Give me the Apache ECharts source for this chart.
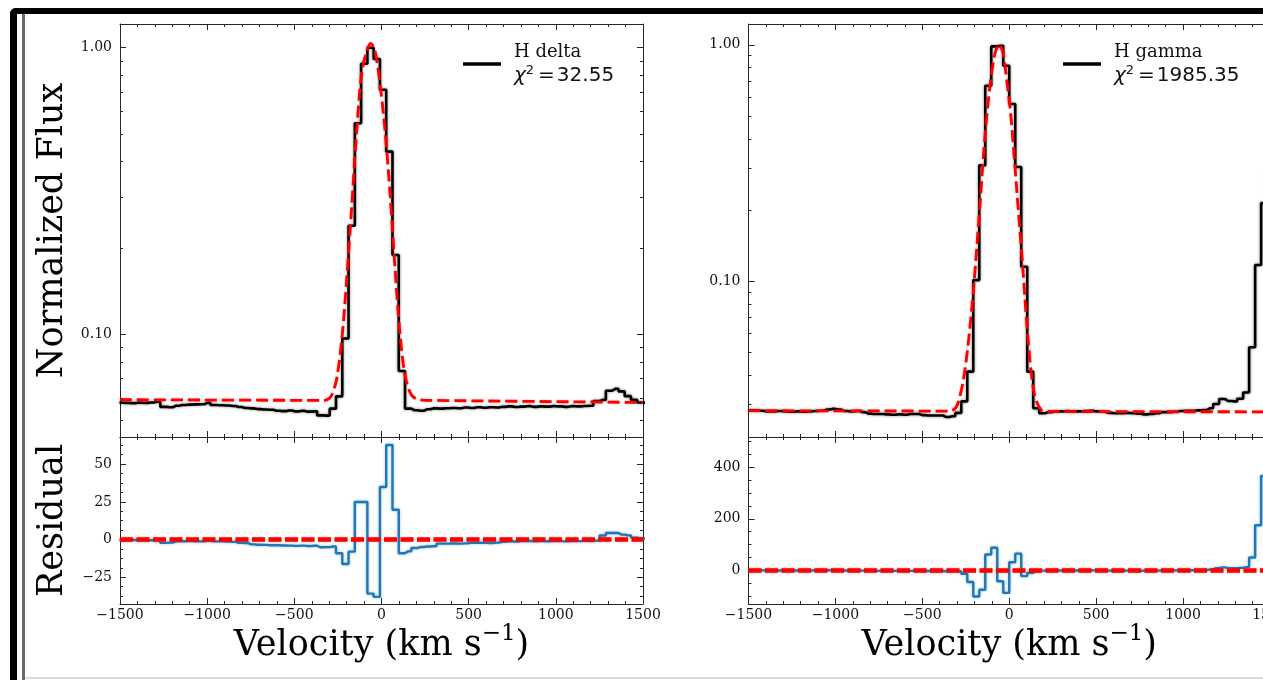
<!DOCTYPE html>
<html>
<head>
<meta charset="utf-8">
<script src="https://cdn.jsdelivr.net/npm/echarts@6/dist/echarts.min.js"></script>
<style>
html,body{margin:0;padding:0;width:1263px;height:680px;overflow:hidden;background:#fff;}
#frameOuter{position:absolute;left:10px;top:8px;width:1320px;height:700px;border-top:6px solid #000;border-left:7px solid #000;border-top-left-radius:6px;box-sizing:border-box;}
#frameInner{position:absolute;left:22px;top:14px;width:3px;height:670px;background:#6b6b6b;}
#frameBottom{position:absolute;left:25px;top:677px;width:1320px;height:2px;background:#dcdcdc;}
#chart{position:absolute;left:0;top:0;width:1300px;height:680px;}
</style>
</head>
<body>
<div id="frameOuter"></div>
<div id="frameInner"></div>
<div id="frameBottom"></div>
<div id="chart"></div>
<script>
// ---------------- DATA ----------------
// H delta (left panel): bin centres (km/s), normalized flux, residual
const hdVel = [-1503,-1467,-1431,-1395,-1359,-1323,-1287,-1251,-1215,-1179,-1143,-1107,-1071,-1035,-999,-963,-927,-891,-855,-819,-783,-747,-711,-675,-639,-603,-567,-531,-495,-459,-423,-387,-351,-315,-279,-243,-207,-171,-135,-99,-63,-27,9,45,81,117,153,189,225,261,297,333,369,405,441,477,513,549,585,621,657,693,729,765,801,837,873,909,945,981,1017,1053,1089,1125,1161,1197,1233,1269,1305,1341,1377,1413,1449,1485,1521];
const hdFlux = [0.0577,0.0576,0.0575,0.0577,0.0576,0.0578,0.0581,0.0558,0.0556,0.0563,0.0566,0.0568,0.0569,0.0570,0.0576,0.0566,0.0565,0.0564,0.0562,0.0557,0.0553,0.0551,0.0548,0.0546,0.0545,0.0541,0.0539,0.0542,0.0538,0.0540,0.0537,0.0538,0.0521,0.0520,0.0550,0.0607,0.0966,0.239,0.545,0.879,1.00,0.913,0.713,0.434,0.189,0.0744,0.0550,0.0543,0.0541,0.0547,0.0551,0.0550,0.0552,0.0553,0.0552,0.0555,0.0553,0.0556,0.0554,0.0556,0.0555,0.0558,0.0560,0.0557,0.0559,0.0561,0.0558,0.0560,0.0559,0.0561,0.0560,0.0558,0.0561,0.0560,0.0562,0.0563,0.0585,0.0590,0.0635,0.0645,0.0632,0.0608,0.0590,0.0578,0.0575];
const hdResid = [-0.4,-0.4,-0.3,-0.4,-0.5,-0.4,-0.5,-2.2,-2.0,-1.2,-1.1,-1.0,-1.1,-1.2,-0.8,-1.2,-1.2,-1.3,-1.5,-2.2,-2.3,-3.2,-3.4,-3.5,-3.8,-3.8,-3.9,-4.0,-4.2,-4.0,-4.3,-4.1,-5.1,-5.0,-4.6,-9.1,-16.2,-8.0,24.9,24.9,-35.8,-38.0,34.9,62.7,19.8,-9.1,-7.8,-5.6,-4.9,-4.6,-4.4,-2.7,-2.7,-2.6,-2.7,-2.5,-2.2,-2.2,-2.1,-2.3,-2.0,-1.5,-1.1,-1.3,-1.0,-0.9,-1.2,-1.0,-1.1,-0.9,-1.0,-1.2,-0.9,-1.0,-0.8,-0.9,-0.7,2.7,4.4,4.4,3.3,2.8,1.3,0.8,0.5];
// H delta model (red dashed)
const hdModelVel  = [-1500,-340,-314,-286,-257,-228,-200,-171,-142,-114,-85,-62,-37,-9,20,49,77,106,135,173,221,260,1500];
const hdModelFlux = [0.0591,0.0588,0.0590,0.0612,0.070,0.0953,0.1545,0.279,0.517,0.815,0.971,1.035,0.971,0.752,0.517,0.310,0.172,0.1005,0.0719,0.0612,0.0590,0.0588,0.0578];

// H gamma (right panel)
const hgVel = [-1500.75,-1466.25,-1431.75,-1397.25,-1362.75,-1328.25,-1293.75,-1259.25,-1224.75,-1190.25,-1155.75,-1121.25,-1086.75,-1052.25,-1017.75,-983.25,-948.75,-914.25,-879.75,-845.25,-810.75,-776.25,-741.75,-707.25,-672.75,-638.25,-603.75,-569.25,-534.75,-500.25,-465.75,-431.25,-396.75,-362.25,-327.75,-293.25,-258.75,-224.25,-189.75,-155.25,-120.75,-86.25,-51.75,-17.25,17.25,51.75,86.25,120.75,155.25,189.75,224.25,258.75,293.25,327.75,362.25,396.75,431.25,465.75,500.25,534.75,569.25,603.75,638.25,672.75,707.25,741.75,776.25,810.75,845.25,879.75,914.25,948.75,983.25,1017.75,1052.25,1086.75,1121.25,1155.75,1190.25,1224.75,1259.25,1293.75,1328.25,1362.75,1397.25,1431.75,1466.25,1500.75];
const hgFlux = [0.0284,0.0284,0.0283,0.0281,0.0281,0.0282,0.0281,0.0280,0.0281,0.0280,0.0281,0.0282,0.0283,0.0286,0.0288,0.0286,0.0282,0.0281,0.0282,0.0279,0.0275,0.0274,0.0274,0.0273,0.0272,0.0273,0.0272,0.0274,0.0274,0.0271,0.0270,0.0270,0.0270,
  0.0266,0.0268,0.0277,0.031,0.0414,0.101,0.309,0.671,0.985,0.99,0.815,0.562,0.304,0.115,0.0414,0.029,
  0.0276,0.0279,0.0281,0.0281,0.0282,0.0281,0.0281,0.0282,0.0283,0.0281,0.0280,0.0277,0.0276,0.0276,0.0277,0.0276,0.0275,0.0273,0.0274,0.0276,0.0279,0.0279,0.0280,0.0282,0.0283,0.0283,0.0284,
  0.0285,0.0290,0.0302,0.0317,0.0311,0.0310,0.0318,0.0338,0.0525,0.117,0.214,0.30];
const hgResid = [0.3,0.2,0.1,-0.2,-0.3,0,-0.2,-0.4,-0.3,-0.4,-0.2,0.1,0.3,0.8,1.2,0.7,0,-0.2,0,-0.6,-1.3,-1.5,-1.5,-1.7,-1.8,-1.7,-1.9,-1.7,-1.7,-2.1,-2.2,-2.2,-2.3,
  -3.2,-2.8,-3,-13,-45,-101,-75,62,88,-42,-87,32,65,-22,-9,-2,
  -0.8,-0.4,0,0,0.2,0,0,0.2,0.4,0.1,-0.2,-0.8,-1,-1,-0.8,-1,-1.2,-1.5,-1.3,-0.8,-0.2,-0.1,0.2,0.4,0.5,0.6,0.8,
  1.5,4,9,12,9,9,10,13,50,175,366,480];
const hgModelVel  = [-1500,-340,-310,-295,-267,-238,-206,-171,-137,-105,-80,-57,-35,-23,10,42,76,110,143,181,220,1500];
const hgModelFlux = [0.0283,0.0282,0.0290,0.0305,0.037,0.0528,0.0916,0.199,0.434,0.728,0.93,1.005,0.92,0.802,0.494,0.250,0.119,0.0546,0.0336,0.0286,0.0281,0.0280];

// Tick values
const xTickInterval = 500;
const logMajor = [0.1, 1];
const hdLogMinor = [0.05,0.06,0.07,0.08,0.09,0.2,0.3,0.4,0.5,0.6,0.7,0.8,0.9];
const hgLogMinor = [0.03,0.04,0.05,0.06,0.07,0.08,0.09,0.2,0.3,0.4,0.5,0.6,0.7,0.8,0.9];
const hdResMajor = [-25,0,25,50];
const hdResMinor = [-37.5,-31.25,-18.75,-12.5,-6.25,6.25,12.5,18.75,31.25,37.5,43.75,56.25,62.5];
const hgResMajor = [0,200,400];
const hgResMinor = [-100,-50,50,100,150,250,300,350,450,500];

// ---------------- CHART ----------------
const F = 'DejaVu Serif';
const AX = '#262626';
const minus = v => (v < 0 ? '\u2212' + Math.abs(v) : String(v));
const pairs = (xs, ys) => xs.map((x, i) => [x, ys[i]]);

function xAx(gi, pos, showLabel, name) {
  return {
    type: 'value', gridIndex: gi, position: pos, min: -1500, max: 1500, interval: xTickInterval,
    axisLine: {show: true, onZero: false, lineStyle: {color: AX, width: 1}},
    axisTick: {show: true, inside: true, length: 6, lineStyle: {color: AX, width: 1}},
    minorTick: {show: true, splitNumber: 5, length: 3, lineStyle: {color: AX, width: 1}},
    splitLine: {show: false}, minorSplitLine: {show: false},
    axisLabel: {show: showLabel, margin: 4, color: '#111', fontFamily: F, fontSize: 14, formatter: minus},
    name: name || '', nameLocation: 'middle', nameGap: 16,
    nameTextStyle: {fontFamily: F, fontSize: 35, color: '#000', lineHeight: 46, verticalAlign: 'top',
      rich: {sup: {fontFamily: F, fontSize: 23, verticalAlign: 'top', lineHeight: 24, color: '#000'}}}
  };
}
function yAx(gi, pos, type, min, max, ticks, major, labels, name) {
  const o = {
    type: type, gridIndex: gi, position: pos, min: min, max: max,
    axisLine: {show: major, onZero: false, lineStyle: {color: AX, width: 1}},
    axisTick: {show: true, inside: true, length: major ? 6 : 3, customValues: ticks, lineStyle: {color: AX, width: 1}},
    splitLine: {show: false},
    axisLabel: {show: !!labels, customValues: ticks, margin: 8, color: '#111', fontFamily: F, fontSize: 14,
      formatter: type === 'log' ? (v => Number(v).toFixed(2)) : minus},
    name: name || '', nameLocation: 'middle', nameGap: 50, nameRotate: 90,
    nameTextStyle: {fontFamily: F, fontSize: 35, color: '#000'}
  };
  if (type === 'log') o.logBase = 10;
  return o;
}

const G = [
  {left: 120, top: 24, width: 523, height: 413, outerBoundsMode: 'none'},
  {left: 120, top: 437, width: 523, height: 167, outerBoundsMode: 'none'},
  {left: 748.5, top: 24, width: 521.5, height: 413, outerBoundsMode: 'none'},
  {left: 748.5, top: 437, width: 521.5, height: 167, outerBoundsMode: 'none'}
];

const velName = 'Velocity (km s{sup|\u22121})';
const xAxes = [
  xAx(0, 'bottom', false), xAx(0, 'top', false),
  xAx(1, 'bottom', true, velName), xAx(1, 'top', false),
  xAx(2, 'bottom', false), xAx(2, 'top', false),
  xAx(3, 'bottom', true, velName), xAx(3, 'top', false)
];
const hdLo = 0.04379, hdHi = 1.21, hgLo = 0.0219, hgHi = 1.225;
const yAxes = [
  yAx(0, 'left', 'log', hdLo, hdHi, logMajor, true, true, 'Normalized Flux'),
  yAx(0, 'left', 'log', hdLo, hdHi, hdLogMinor, false),
  yAx(0, 'right', 'log', hdLo, hdHi, logMajor, true),
  yAx(0, 'right', 'log', hdLo, hdHi, hdLogMinor, false),
  yAx(1, 'left', 'value', -42.7, 68, hdResMajor, true, true, 'Residual'),
  yAx(1, 'left', 'value', -42.7, 68, hdResMinor, false),
  yAx(1, 'right', 'value', -42.7, 68, hdResMajor, true),
  yAx(1, 'right', 'value', -42.7, 68, hdResMinor, false),
  yAx(2, 'left', 'log', hgLo, hgHi, logMajor, true, true),
  yAx(2, 'left', 'log', hgLo, hgHi, hgLogMinor, false),
  yAx(2, 'right', 'log', hgLo, hgHi, logMajor, true),
  yAx(2, 'right', 'log', hgLo, hgHi, hgLogMinor, false),
  yAx(3, 'left', 'value', -130, 517, hgResMajor, true, true),
  yAx(3, 'left', 'value', -130, 517, hgResMinor, false),
  yAx(3, 'right', 'value', -130, 517, hgResMajor, true),
  yAx(3, 'right', 'value', -130, 517, hgResMinor, false)
];

function fluxSeries(name, xi, yi, data) {
  return {name: name, type: 'line', xAxisIndex: xi, yAxisIndex: yi, data: data, step: 'middle',
    showSymbol: false, clip: true, z: 3, itemStyle: {color: '#000'},
    lineStyle: {color: '#000', width: 2.6, shadowColor: 'rgba(0,0,0,0.45)', shadowBlur: 3}};
}
function modelSeries(xi, yi, data) {
  return {type: 'line', xAxisIndex: xi, yAxisIndex: yi, data: data, smooth: 0.3, showSymbol: false, clip: true, z: 4,
    lineStyle: {color: '#ff0000', width: 2.8, type: [12, 5], shadowColor: 'rgba(255,0,0,0.35)', shadowBlur: 2}};
}
function residSeries(xi, yi, data) {
  return {type: 'line', xAxisIndex: xi, yAxisIndex: yi, data: data, step: 'middle', showSymbol: false, clip: true, z: 3,
    lineStyle: {color: '#1f77b4', width: 2.4, shadowColor: 'rgba(31,119,180,0.45)', shadowBlur: 3},
    markLine: {silent: true, symbol: 'none', label: {show: false}, animation: false,
      lineStyle: {color: '#ff0000', width: 4.5, type: [13, 3.5], shadowColor: 'rgba(255,0,0,0.35)', shadowBlur: 2},
      data: [{yAxis: 0}]}};
}

function legendFor(name, left, chiText) {
  return {
    data: [name], left: left, top: 40, padding: 0, orient: 'vertical', icon: 'rect', itemWidth: 38, itemHeight: 3.5,
    selectedMode: false,
    textStyle: {fontFamily: F, fontSize: 18, color: '#111', lineHeight: 24, padding: [0, 0, 0, 8],
      rich: {
        t: {fontFamily: F, fontSize: 18, lineHeight: 24, color: '#111'},
        m: {fontFamily: 'DejaVu Sans', fontStyle: 'italic', fontSize: 20, lineHeight: 24, color: '#111'},
        s: {fontFamily: 'DejaVu Sans', fontSize: 13, lineHeight: 15, verticalAlign: 'top', color: '#111'},
        n: {fontFamily: 'DejaVu Sans', fontSize: 20, lineHeight: 24, color: '#111'}
      }},
    formatter: () => '{t|' + name + '}\n{m|\u03c7}{s|2}{n|\u2009=\u200a' + chiText + '}'
  };
}

const option = {
  animation: false,
  backgroundColor: 'transparent',
  grid: G,
  xAxis: xAxes,
  yAxis: yAxes,
  legend: [legendFor('H delta', 463, '32.55'), legendFor('H gamma', 1063, '1985.35')],
  series: [
    fluxSeries('H delta', 0, 0, pairs(hdVel, hdFlux)),
    modelSeries(0, 0, pairs(hdModelVel, hdModelFlux)),
    residSeries(2, 4, pairs(hdVel, hdResid)),
    fluxSeries('H gamma', 4, 8, pairs(hgVel, hgFlux)),
    modelSeries(4, 8, pairs(hgModelVel, hgModelFlux)),
    residSeries(6, 12, pairs(hgVel, hgResid))
  ]
};
const chart = echarts.init(document.getElementById('chart'));
chart.setOption(option);
</script>
</body>
</html>
